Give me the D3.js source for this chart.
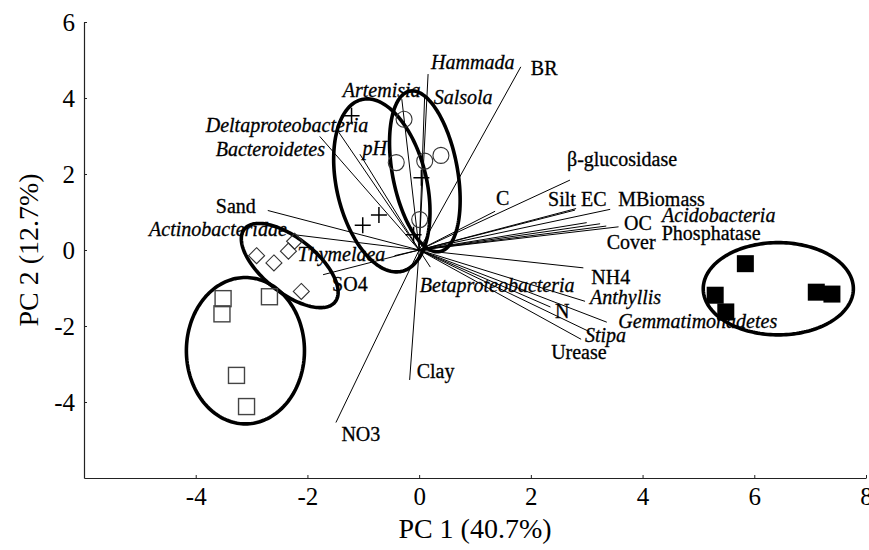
<!DOCTYPE html>
<html>
<head>
<meta charset="utf-8">
<script src="https://cdn.jsdelivr.net/npm/d3@7"></script>
<style>
  body { margin: 0; background: #fff; }
  text { font-family: "Liberation Serif", "Times New Roman", Times, serif; fill: #000; }
</style>
</head>
<body>
<svg id="chart" width="869" height="550"></svg>
<script>
// ---- axes ----
const xTicks = [-4, -2, 0, 2, 4, 6, 8];
const yTicks = [-4, -2, 0, 2, 4, 6];
const xTitle = "PC 1 (40.7%)";
const yTitle = "PC 2 (12.7%)";

// ---- variable loadings (biplot vectors) ----
const varNames = ["BR", "Hammada", "Salsola", "Artemisia", "Deltaproteobacteria", "Bacteroidetes",
  "pH", "Sand", "Actinobacteridae", "Thymelaea", "SO4", "Betaproteobacteria", "Clay", "NO3",
  "C", "β-glucosidase", "Silt", "EC", "MBiomass", "Cover", "Acidobacteria", "OC", "Phosphatase",
  "NH4", "Anthyllis", "N", "Gemmatimonadetes", "Stipa", "Urease"];
const varPC1 = [1.82, 0.16, 0.10, -0.31, -1.78, -1.44,
  -1.06, -2.71, -2.28, -0.44, -1.72, 0.20, -0.17, -1.49,
  1.36, 2.70, 2.81, 2.79, 3.42, 3.00, 3.24, 3.57, 3.35,
  2.94, 2.97, 2.35, 3.36, 3.05, 2.90];
const varPC2 = [4.82, 4.63, 4.10, 3.97, 2.99, 3.10,
  2.52, 1.04, 0.41, -0.15, -0.65, -0.45, -3.42, -4.54,
  1.02, 1.84, 1.09, 1.05, 1.07, 0.72, 0.69, 0.61, 0.63,
  -0.47, -1.35, -1.50, -1.90, -2.15, -2.35];

// ---- sample scores per group ----
const circlePC1 = [-0.27, -0.41, 0.10, 0.39, 0.01];
const circlePC2 = [3.44, 2.30, 2.34, 2.49, 0.80];
const plusPC1 = [-1.21, -0.72, -1.01, 0.04, -0.10];
const plusPC2 = [3.53, 0.92, 0.65, 1.90, 0.40];
const diamondPC1 = [-2.23, -2.34, -2.91, -2.60, -2.11];
const diamondPC2 = [0.23, -0.03, -0.15, -0.34, -1.09];
const squarePC1 = [-3.51, -3.53, -2.68, -3.27, -3.09];
const squarePC2 = [-1.28, -1.68, -1.23, -3.30, -4.12];
const filledPC1 = [5.84, 5.30, 5.49, 7.11, 7.39];
const filledPC2 = [-0.36, -1.19, -1.63, -1.11, -1.16];

// ---- group ellipses: centre and two conjugate semi-axes (PC units) ----
const ellipseGroups = ["circle", "plus", "diamond", "square", "filled"];
const ellipseCX = [0.102, -0.668, -2.317, -3.11, 6.43];
const ellipseCY = [2.07, 1.70, -0.409, -2.65, -1.02];
const ellipseUX = [0.269, 0.357, 0.812, 1.057, 1.344];
const ellipseUY = [-2.111, -2.261, -0.958, 0, 0];
const ellipseVX = [0.572, 0.785, -0.303, 0, 0];
const ellipseVY = [0.158, 0.269, -0.557, 1.926, 1.214];

// ---- label styling and placement (pixel offsets from vector tips) ----
const italicNames = new Set(["Hammada", "Salsola", "Artemisia", "Deltaproteobacteria", "Bacteroidetes",
  "pH", "Actinobacteridae", "Thymelaea", "Betaproteobacteria", "Acidobacteria", "Anthyllis",
  "Gemmatimonadetes", "Stipa"]);
const labelOffset = {
  "BR": [10, 8], "Hammada": [3, -5], "Salsola": [9, 10], "Artemisia": [-59, -2],
  "Deltaproteobacteria": [-114, -4.5], "Bacteroidetes": [-123, 24], "pH": [2.5, 1],
  "Sand": [-52, 3], "Actinobacteridae": [-5, 2, "end"], "Thymelaea": [-97, 5.5],
  "SO4": [9, 16], "Betaproteobacteria": [-10.5, 25], "Clay": [7, -2], "NO3": [5.5, 18],
  "C": [1, -6], "β-glucosidase": [-3, -14], "Silt": [-28, -2.5], "EC": [6, -4],
  "MBiomass": [8, -3], "Cover": [20, 26], "Acidobacteria": [62, -2], "OC": [5.5, 3.3],
  "Phosphatase": [55.5, 14], "NH4": [8, 16], "Anthyllis": [5, 3], "N": [4.6, 11],
  "Gemmatimonadetes": [11.5, 6], "Stipa": [-4.5, 10], "Urease": [-30, 19.5]
};

const svg = d3.select("#chart");
const x = d3.scaleLinear().domain([-6, 8]).range([84, 866]);
const y = d3.scaleLinear().domain([-6, 6]).range([478, 22]);

// axes with short inward ticks
const gx = svg.append("g").attr("transform", `translate(0,${y(-6)})`)
  .call(d3.axisBottom(x).tickValues(xTicks).tickSizeInner(-3).tickSizeOuter(0).tickPadding(9).tickFormat(d3.format("d")));
const gy = svg.append("g").attr("transform", `translate(${x(-6)},0)`)
  .call(d3.axisLeft(y).tickValues(yTicks).tickSizeInner(-3).tickSizeOuter(0).tickPadding(9).tickFormat(d3.format("d")));
[gx, gy].forEach(g => {
  g.select(".domain").attr("stroke", "#222").attr("stroke-width", 1.2);
  g.selectAll(".tick line").attr("stroke", "#222");
  g.selectAll(".tick text").attr("font-size", 25)
    .attr("font-family", '"Liberation Serif", "Times New Roman", serif').attr("fill", "#000")
    .text(d => d < 0 ? "-" + Math.abs(d) : d);
});

svg.append("text").attr("x", (x.range()[0] + x.range()[1]) / 2).attr("y", 538)
  .attr("text-anchor", "middle").attr("font-size", 28).text(xTitle);
svg.append("text").attr("transform", `translate(28,${(y.range()[0] + y.range()[1]) / 2}) rotate(-90)`)
  .attr("text-anchor", "middle").attr("dy", "0.35em").attr("font-size", 28).text(yTitle);

// loading vectors
const vars = varNames.map((n, i) => ({ name: n, px: varPC1[i], py: varPC2[i] }));
svg.append("g").selectAll("line").data(vars).join("line")
  .attr("x1", x(0)).attr("y1", y(0))
  .attr("x2", d => x(d.px)).attr("y2", d => y(d.py))
  .attr("stroke", "#000").attr("stroke-width", 1);

// group ellipses
const ellipses = ellipseGroups.map((g, i) => ({
  cx: ellipseCX[i], cy: ellipseCY[i], ux: ellipseUX[i], uy: ellipseUY[i], vx: ellipseVX[i], vy: ellipseVY[i]
}));
const line = d3.line().curve(d3.curveLinearClosed);
svg.append("g").selectAll("path").data(ellipses).join("path")
  .attr("d", e => line(d3.range(0, 2 * Math.PI, Math.PI / 90).map(t => [
    x(e.cx + e.ux * Math.cos(t) + e.vx * Math.sin(t)),
    y(e.cy + e.uy * Math.cos(t) + e.vy * Math.sin(t))
  ])))
  .attr("fill", "none").attr("stroke", "#000").attr("stroke-width", 3.6);

// sample markers
const pts = (a, b) => a.map((v, i) => [x(v), y(b[i])]);
const gm = svg.append("g");
gm.selectAll(".c").data(pts(circlePC1, circlePC2)).join("circle")
  .attr("cx", d => d[0]).attr("cy", d => d[1]).attr("r", 8)
  .attr("fill", "none").attr("stroke", "#333").attr("stroke-width", 1.1);
gm.selectAll(".p").data(pts(plusPC1, plusPC2)).join("path")
  .attr("d", d => `M${d[0] - 8},${d[1]}H${d[0] + 8}M${d[0]},${d[1] - 8}V${d[1] + 8}`)
  .attr("stroke", "#000").attr("stroke-width", 1.5);
gm.selectAll(".d").data(pts(diamondPC1, diamondPC2)).join("path")
  .attr("d", d => `M${d[0]},${d[1] - 8}L${d[0] + 8},${d[1]}L${d[0]},${d[1] + 8}L${d[0] - 8},${d[1]}Z`)
  .attr("fill", "none").attr("stroke", "#333").attr("stroke-width", 1.1);
gm.selectAll(".s").data(pts(squarePC1, squarePC2)).join("rect")
  .attr("x", d => d[0] - 8).attr("y", d => d[1] - 8).attr("width", 16).attr("height", 16)
  .attr("fill", "none").attr("stroke", "#444").attr("stroke-width", 1.4);
gm.selectAll(".f").data(pts(filledPC1, filledPC2)).join("rect")
  .attr("x", d => d[0] - 8.5).attr("y", d => d[1] - 8.5).attr("width", 17).attr("height", 17)
  .attr("fill", "#000");

// vector labels
svg.append("g").selectAll("text").data(vars).join("text")
  .attr("x", d => x(d.px) + labelOffset[d.name][0])
  .attr("y", d => y(d.py) + labelOffset[d.name][1])
  .attr("text-anchor", d => labelOffset[d.name][2] || "start")
  .attr("font-size", 20)
  .attr("font-style", d => italicNames.has(d.name) ? "italic" : "normal")
  .attr("stroke", "#000").attr("stroke-width", 0.3)
  .text(d => d.name);
</script>
</body>
</html>
